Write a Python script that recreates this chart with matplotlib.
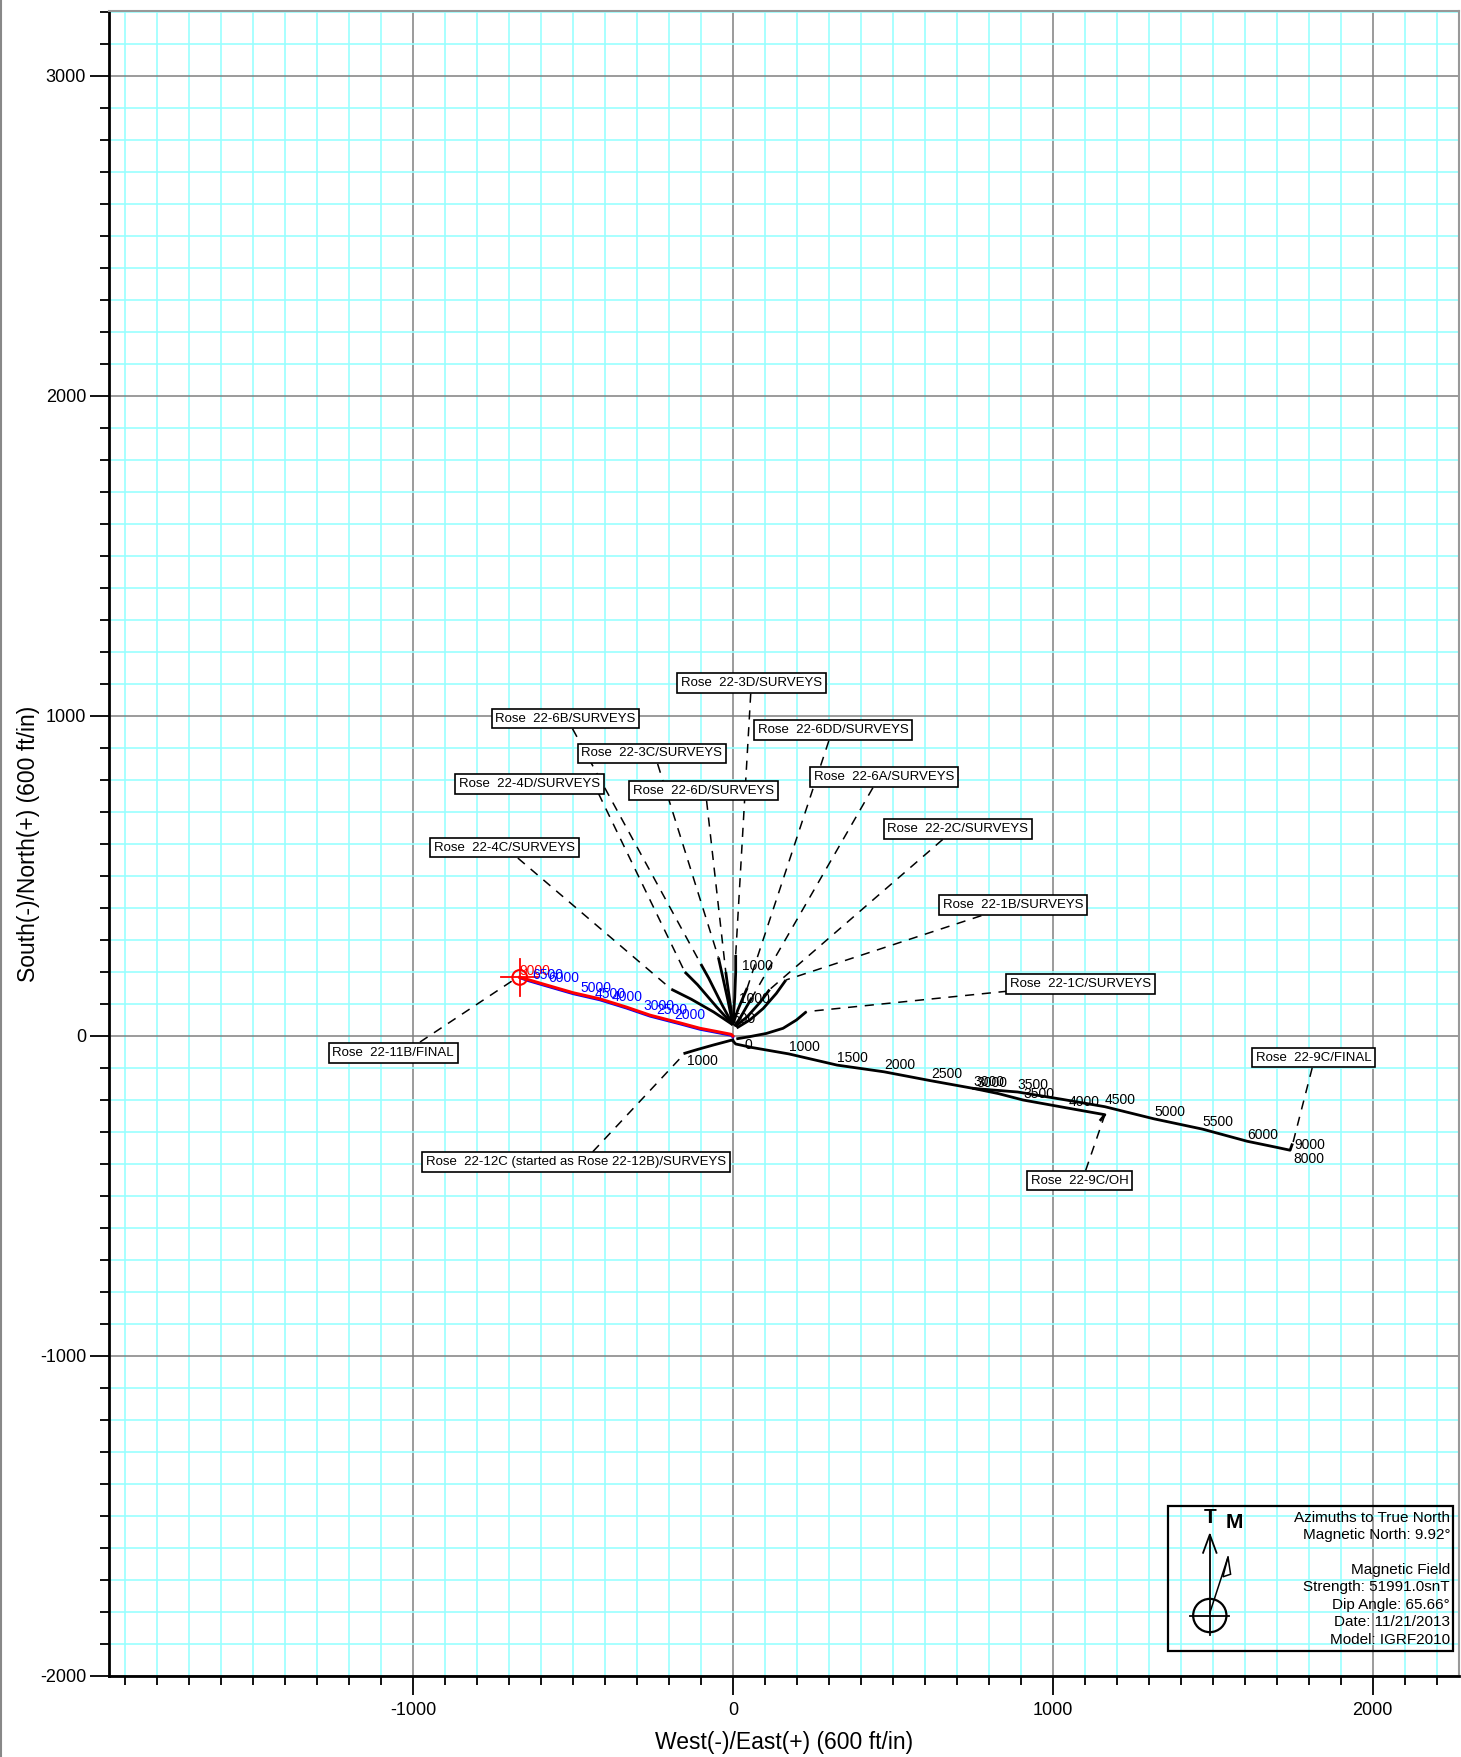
import matplotlib
matplotlib.use('Agg')
import matplotlib.pyplot as plt
from matplotlib.patches import Circle, Rectangle, Polygon
from matplotlib.lines import Line2D

plt.rcParams['font.family'] = ['Liberation Sans', 'DejaVu Sans']
plt.rcParams['axes.unicode_minus'] = False

# --- well paths in plan view (East ft, North ft) ---
# Rose 22-11B/FINAL (red actual, blue plan)
w11b_x = [0, -5, -51, -103, -166, -259, -332, -416, -499, -582, -640, -666]
w11b_y = [0, 5, 14, 24, 41, 65, 90, 116, 135, 159, 176, 183]
p11b_x = [0, -5, -51, -103, -166, -259, -332, -416, -499, -582, -640, -660]
p11b_y = [-3, 2, 11, 21, 38, 62, 87, 113, 132, 156, 173, 180]
md11b_txt = ['9000', '6500', '6000', '5000', '4500', '4000', '3000', '2500', '2000']
md11b_x = [-666, -628, -578, -475, -431, -378, -278, -238, -182]
md11b_y = [204, 190, 181, 151, 131, 123, 94, 80, 66]
md11b_col = ['red'] + ['blue'] * 8
target_x, target_y = -666, 183

# Rose 22-9C/FINAL and 22-9C/OH
w9c_x = [0, 9, 60, 175, 326, 473, 620, 753, 890, 1030, 1163, 1317, 1468, 1608, 1700, 1742, 1748]
w9c_y = [-15, -25, -36, -56, -91, -112, -140, -164, -175, -198, -221, -259, -291, -329, -348, -357, -340]
w9oh_x = [753, 830, 907, 1051, 1163, 1150]
w9oh_y = [-164, -180, -200, -226, -246, -262]
md9c_txt = ['0', '1000', '1500', '2000', '2500', '3000', '3000', '3500', '3500', '4000',
            '4500', '5000', '5500', '6000', '9000', '8000']
md9c_x = [35, 175, 326, 473, 620, 753, 760, 890, 907, 1051, 1163, 1317, 1468, 1608, 1755, 1751]
md9c_y = [-28, -35, -70, -91, -119, -143, -146, -154, -182, -206, -200, -238, -270, -308, -340, -385]

# Rose 22-12C
w12c_x = [0, -60, -110, -150]
w12c_y = [-12, -28, -42, -54]

# fan wells (start near surface, end at TD)
fan = {
    '4C': ([0, -60, -130, -192], [35, 75, 115, 146]),
    '4D': ([0, -50, -110, -150], [35, 90, 160, 200]),
    '6B': ([0, -35, -75, -100], [35, 100, 180, 225]),
    '3C': ([0, -15, -35, -45], [35, 110, 200, 245]),
    '6D': ([0, -8, -18, -22], [35, 100, 170, 200]),
    '3D': ([0, 6, 9, 9], [35, 120, 200, 253]),
    '6DD': ([0, 15, 32, 45], [35, 80, 120, 150]),
    '6A': ([5, 25, 45, 60], [30, 60, 95, 120]),
    '2C': ([8, 45, 85, 115], [30, 60, 105, 145]),
    '1B': ([12, 53, 95, 136, 166], [25, 50, 86, 133, 175]),
    '1C': ([11, 53, 105, 157, 199, 230], [-9, -2, 8, 24, 50, 76]),
}
mdfan_txt = ['1000', '1000', '500', '1000']
mdfan_x = [28, 18, 0, -144]
mdfan_y = [220, 115, 52, -77]

# labels: text, box center, leader start, leader end
labels = [
    ('Rose  22-6B/SURVEYS', -523, 992, -501, 960, -100, 225),
    ('Rose  22-3C/SURVEYS', -253, 883, -235, 850, -45, 245),
    ('Rose  22-4D/SURVEYS', -636, 788, -420, 758, -150, 200),
    ('Rose  22-6D/SURVEYS', -92, 767, -82, 735, -22, 200),
    ('Rose  22-4C/SURVEYS', -714, 589, -672, 556, -192, 146),
    ('Rose  22-3D/SURVEYS', 58, 1103, 56, 1070, 9, 253),
    ('Rose  22-6DD/SURVEYS', 314, 956, 300, 922, 45, 150),
    ('Rose  22-6A/SURVEYS', 472, 809, 438, 776, 60, 120),
    ('Rose  22-2C/SURVEYS', 703, 647, 656, 614, 115, 145),
    ('Rose  22-1B/SURVEYS', 877, 409, 777, 376, 166, 175),
    ('Rose  22-1C/SURVEYS', 1087, 162, 859, 140, 230, 76),
    ('Rose  22-11B/FINAL', -1062, -53, -978, -19, -690, 172),
    ('Rose  22-12C (started as Rose 22-12B)/SURVEYS', -490, -394, -438, -362, -150, -54),
    ('Rose  22-9C/OH', 1084, -452, 1103, -420, 1163, -246),
    ('Rose  22-9C/FINAL', 1815, -68, 1811, -100, 1748, -345),
]

legend_lines = ['Azimuths to True North', 'Magnetic North: 9.92\u00b0', '',
                'Magnetic Field', 'Strength: 51991.0snT', 'Dip Angle: 65.66\u00b0',
                'Date: 11/21/2013', 'Model: IGRF2010']

fig = plt.figure(figsize=(14.61, 17.57), dpi=100)
ax = fig.add_axes([109 / 1461, 81 / 1757, 1350 / 1461, 1665 / 1757])
fig.add_artist(Line2D([0.0008, 0.0008], [0, 1], color='#888888', lw=1.5))

ax.set_xlim(-1950, 2270)
ax.set_ylim(-2000, 3203)

ax.set_xticks([-1000, 0, 1000, 2000])
ax.set_xticks(range(-1900, 2300, 100), minor=True)
ax.set_yticks(range(-2000, 3001, 1000))
ax.set_yticks(range(-2000, 3201, 100), minor=True)
ax.grid(which='minor', color='#99ffff', lw=1.2)
ax.grid(which='major', color='#808080', lw=1.1)
ax.set_axisbelow(True)
ax.tick_params(which='major', length=13.5, width=1.3, labelsize=13, pad=3)
ax.tick_params(axis='x', which='major', pad=5)
ax.tick_params(which='minor', length=6.7, width=1.3)
for s in ['left', 'bottom']:
    ax.spines[s].set_linewidth(2)
    ax.spines[s].set_color('black')
for s in ['top', 'right']:
    ax.spines[s].set_linewidth(1.5)
    ax.spines[s].set_color('#999999')

ax.set_xlabel('West(-)/East(+) (600 ft/in)', fontsize=16.5, labelpad=9)
ax.set_ylabel('South(-)/North(+) (600 ft/in)', fontsize=16.5, labelpad=0)

# leaders
for txt, cx, cy, sx, sy, ex, ey in labels:
    ax.plot([sx, ex], [sy, ey], color='black', lw=1.1, ls=(0, (6, 5)), zorder=3)

# fan wells
for k, (xs, ys) in fan.items():
    ax.plot(xs, ys, color='black', lw=2, zorder=4, solid_capstyle='butt')
ax.plot(w12c_x, w12c_y, color='black', lw=2, zorder=4)
ax.plot(w9c_x, w9c_y, color='black', lw=2, zorder=4)
ax.plot(w9oh_x, w9oh_y, color='black', lw=2, zorder=4)

# 22-11B
ax.plot(p11b_x, p11b_y, color='blue', lw=2, zorder=4)
ax.plot(w11b_x, w11b_y, color='red', lw=2.2, zorder=5)
ax.add_patch(Circle((target_x, target_y), 23, fill=False, ec='red', lw=1.5, zorder=6))
ax.plot([target_x - 58, target_x + 58], [target_y, target_y], color='red', lw=1.3, zorder=6)
ax.plot([target_x, target_x], [target_y - 58, target_y + 58], color='red', lw=1.3, zorder=6)

for t, x, y, c in zip(md11b_txt, md11b_x, md11b_y, md11b_col):
    ax.text(x, y, t, color=c, fontsize=10, ha='left', va='center', zorder=7)
for t, x, y in zip(md9c_txt, md9c_x, md9c_y):
    ax.text(x, y, t, color='black', fontsize=10, ha='left', va='center', zorder=7)
for t, x, y in zip(mdfan_txt, mdfan_x, mdfan_y):
    ax.text(x, y, t, color='black', fontsize=10, ha='left', va='center', zorder=7)

for txt, cx, cy, sx, sy, ex, ey in labels:
    ax.text(cx, cy, txt, fontsize=9.5, ha='center', va='center', zorder=8,
            bbox=dict(boxstyle='square,pad=0.28', fc='white', ec='black', lw=1.2))

# legend box with north arrow
ax.add_patch(Rectangle((1359, -1921), 893, 451, fill=False, ec='black', lw=1.6, zorder=8))
for i, t in enumerate(legend_lines):
    ax.text(2242, -1505 - i * 54.5, t, fontsize=11, ha='right', va='center', zorder=9)
ax.text(1491, -1505, 'T', fontsize=15, fontweight='bold', ha='center', va='center', zorder=9)
ax.text(1569, -1519, 'M', fontsize=15, fontweight='bold', ha='center', va='center', zorder=9)
ax.plot([1491, 1491], [-1873, -1558], color='black', lw=1.3, zorder=9)
ax.plot([1470, 1491, 1512], [-1615, -1558, -1615], color='black', lw=1.3, zorder=9)
ax.plot([1491, 1548], [-1803, -1628], color='black', lw=1.1, zorder=9)
ax.add_patch(Polygon([[1548, -1628], [1532, -1690], [1556, -1682]], closed=True,
                     fill=False, ec='black', lw=1.1, zorder=9))
ax.add_patch(Circle((1491, -1811), 52, fill=False, ec='black', lw=1.6, zorder=9))
ax.plot([1430, 1552], [-1811, -1811], color='black', lw=1.3, zorder=9)

fig.savefig('out.png', dpi=100)
